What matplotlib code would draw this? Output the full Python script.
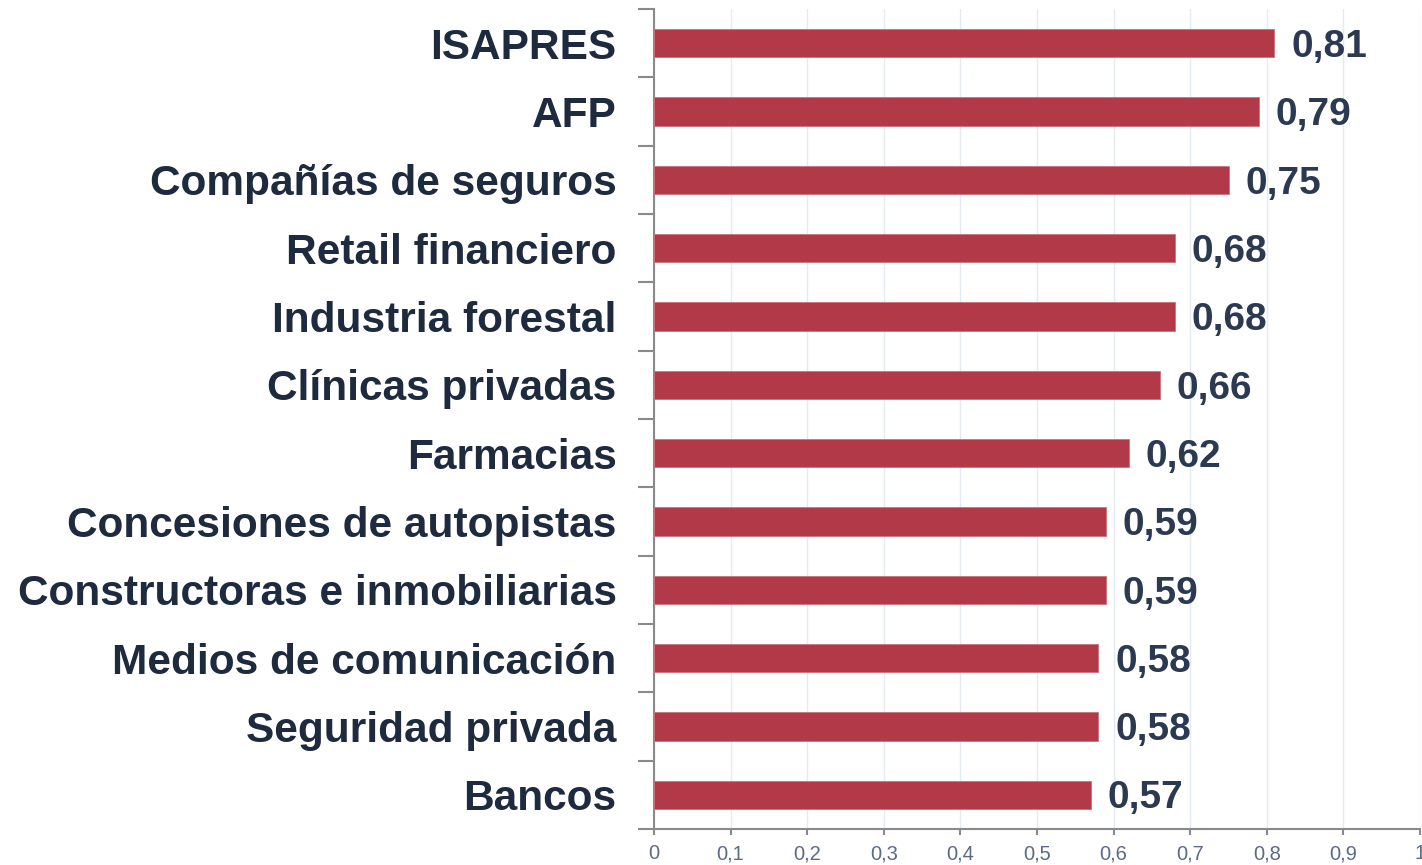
import matplotlib
matplotlib.use("Agg")
import matplotlib.pyplot as plt
from matplotlib import font_manager
import numpy as np

categories = ["ISAPRES", "AFP", "Compañías de seguros", "Retail financiero",
              "Industria forestal", "Clínicas privadas", "Farmacias",
              "Concesiones de autopistas", "Constructoras e inmobiliarias",
              "Medios de comunicación", "Seguridad privada", "Bancos"]
values = [0.81, 0.79, 0.75, 0.68, 0.68, 0.66, 0.62, 0.59, 0.59, 0.58, 0.58, 0.57]
xticks = [0, 0.1, 0.2, 0.3, 0.4, 0.5, 0.6, 0.7, 0.8, 0.9, 1]
xtick_labels = ["0", "0,1", "0,2", "0,3", "0,4", "0,5", "0,6", "0,7", "0,8", "0,9", "1"]

plt.rcParams['font.family'] = ['Liberation Sans', 'DejaVu Sans']
names = {f.name for f in font_manager.fontManager.ttflist}
narrow = 'Liberation Sans Narrow' if 'Liberation Sans Narrow' in names else 'Liberation Sans'
tick_fs = 16 if narrow == 'Liberation Sans Narrow' else 14.5

fig = plt.figure(figsize=(14.22, 8.65), dpi=100)
ax = fig.add_axes([654/1422, 36/865, 766/1422, 820/865])

n = len(categories)
y = np.arange(n)
ax.barh(y, values, height=0.41, color="#B23A48", edgecolor="#C9737D", linewidth=0.6, zorder=3)
ax.set_ylim(n - 0.5, -0.5)
ax.set_xlim(0, 1)

for yi, v in zip(y, values):
    ax.text(v + 0.022, yi + 0.2, f"{v:.2f}".replace(".", ","), va="baseline", ha="left",
            fontsize=28, fontweight="bold", color="#2B3A50", zorder=4)

ax.set_yticks(y)
ax.set_yticklabels(categories, fontsize=30.5, fontweight="bold", color="#1E2A3D")
ax.tick_params(axis="y", length=0, pad=27)
ax.set_yticks(np.arange(-0.5, n, 1), minor=True)
ax.tick_params(axis="y", which="minor", length=11.5, width=1.5, color="#8A8A8A", direction="out")

ax.set_xticks(xticks)
ax.set_xticklabels(xtick_labels, fontsize=tick_fs, color="#5B6B85", family=[narrow, 'DejaVu Sans'])
ax.tick_params(axis="x", length=4, width=1.5, color="#8A8A8A", pad=7)

ax.grid(axis="x", color="#E4EAF1", linewidth=1, zorder=0)
for s in ["top", "right"]:
    ax.spines[s].set_visible(False)
for s in ["left", "bottom"]:
    ax.spines[s].set_color("#8A8A8A")
    ax.spines[s].set_linewidth(1.5)

fig.savefig("out.png", dpi=100)
